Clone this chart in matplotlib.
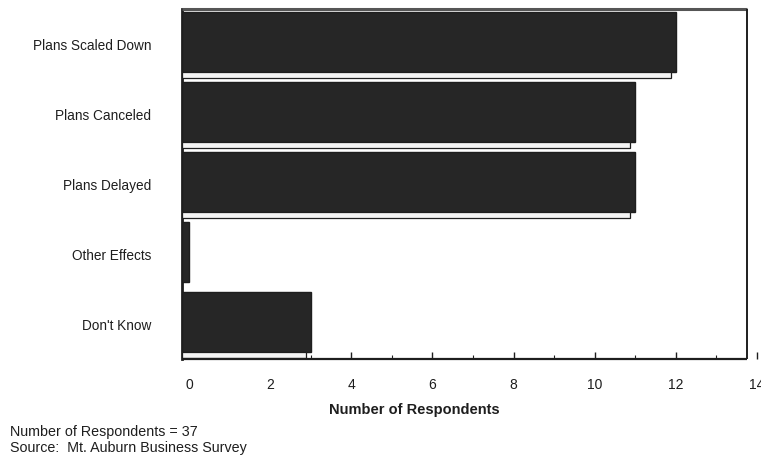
import matplotlib
matplotlib.use("Agg")
import matplotlib.pyplot as plt
from matplotlib.ticker import MultipleLocator

categories = ["Plans Scaled Down", "Plans Canceled", "Plans Delayed", "Other Effects", "Don't Know"]
values = [12, 11, 11, 0, 3]
x_ticks = [0, 2, 4, 6, 8, 10, 12, 14]
x_label = "Number of Respondents"
notes = ["Number of Respondents = 37", "Source:  Mt. Auburn Business Survey"]

plt.rcParams['font.family'] = ['Liberation Sans', 'DejaVu Sans']
ink = "#1e1e1e"

fig = plt.figure(figsize=(7.61, 4.60), dpi=100)
W, H = 761, 460
ax_left, ax_right, ax_top, ax_bot = 182, 757, 10, 360
ax = fig.add_axes([ax_left / W, 1 - ax_bot / H, (ax_right - ax_left) / W, (ax_bot - ax_top) / H])

xmin, xmax = -0.17, 14.0
back = 13.75          # right wall of the plot box
ax.set_xlim(xmin, xmax)
ax.set_ylim(4.5, -0.5)

slot = 70.0
for i, v in enumerate(values):
    # dark front face of the bar
    top = i - 0.5 + 3 / slot
    ax.barh(top, v - xmin, left=xmin, height=60 / slot, align='edge',
            color="#262626", edgecolor=ink, linewidth=1.0, zorder=3)
    # light base strip under each bar
    if v > 0:
        ax.barh(i - 0.5 + 63 / slot, max(v - xmin - 0.12, 0), left=xmin,
                height=6 / slot, align='edge', color="#f4f4f4",
                edgecolor=ink, linewidth=0.9, zorder=3)

# box frame
for s in ("top", "right", "bottom"):
    ax.spines[s].set_visible(False)
ax.spines["left"].set_linewidth(2.0)
ax.spines["left"].set_color(ink)
ax.hlines(4.5, xmin, back, color=ink, linewidth=1.6, zorder=4, clip_on=False)
ax.hlines(-0.5, xmin, back, color="#555555", linewidth=2.2, zorder=4, clip_on=False)
ax.vlines(back, -0.5, 4.5, color=ink, linewidth=1.4, zorder=4)

ax.set_xticks(x_ticks)
ax.set_xticklabels([str(t) for t in x_ticks])
ax.xaxis.set_minor_locator(MultipleLocator(1))
ax.tick_params(axis='x', which='major', direction='in', length=5, width=1.0,
               color=ink, labelsize=10, labelcolor=ink, pad=13)
ax.tick_params(axis='x', which='minor', direction='in', length=3, width=0.8, color=ink)

ax.set_yticks(range(len(categories)))
ax.set_yticklabels(categories)
ax.tick_params(axis='y', length=0, labelsize=9.8, labelcolor=ink, pad=22)

fig.text(414 / W, 1 - 410 / H, x_label, ha='center', va='center',
         fontsize=10.5, fontweight='bold', color=ink)
fig.text(10 / W, 1 - 432 / H, notes[0], ha='left', va='center', fontsize=10.3, color=ink)
fig.text(10 / W, 1 - 448 / H, notes[1], ha='left', va='center', fontsize=10.3, color=ink)

fig.savefig("out.png", dpi=100, facecolor="white")
